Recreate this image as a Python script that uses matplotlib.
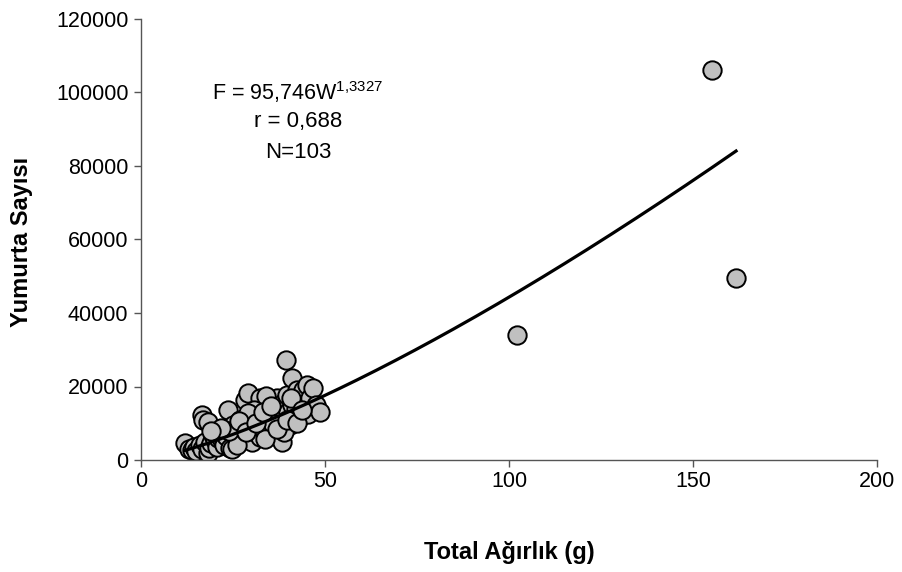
import matplotlib
matplotlib.use("Agg")
import matplotlib.pyplot as plt
import numpy as np

plt.rcParams['font.family'] = ['Liberation Sans', 'DejaVu Sans']
plt.rcParams['mathtext.fontset'] = 'custom'
plt.rcParams['mathtext.rm'] = 'Liberation Sans'

# Total weight (g)
weights = [
    12.0, 13.0, 13.9, 14.5, 15.0, 16.0, 16.5, 16.6, 16.8, 17.5, 18.2, 18.2, 18.5, 19.0,
    19.6, 20.1, 20.6, 21.0, 21.5, 22.0, 22.5, 23.0,
    23.6, 24.2, 24.7, 25.0, 25.5, 26.0, 26.9, 27.5, 28.0, 28.3, 28.8, 29.1, 29.6, 30.0,
    30.2, 30.5, 31.0, 31.5, 31.8, 32.0, 32.3, 32.3,
    33.0, 33.5, 34.0, 34.5, 35.0, 35.5, 36.0, 36.5, 36.9, 37.2, 37.5, 38.0, 38.3, 38.5,
    39.0, 39.4, 39.6, 40.0, 40.5, 41.0, 41.0, 41.5, 42.0, 42.3, 43.0, 43.2, 44.0, 44.5,
    45.0, 45.1, 45.5, 46.0, 46.7, 47.5, 48.6,
    27.0, 34.0, 35.8, 38.8, 30.8, 26.2, 33.8, 29.0,
    24.0, 26.5, 28.5, 31.2, 33.2, 35.2, 37.0, 39.8, 40.8, 42.5, 43.8, 21.8, 19.0,
    102.2, 155.2, 161.7,
]
# Egg count
eggs = [
    4600, 3000, 2700, 3600, 2400, 4100, 3000, 12200, 10900, 5000, 1900, 10300, 3200, 4500,
    6800, 5400, 3500, 6000, 7300, 5400, 4200, 6500,
    13600, 3300, 3000, 9500, 7000, 6300, 8200, 5500, 9000, 16300, 6800, 18200, 10100, 8000,
    4900, 12500, 7500, 11700, 9500, 14000, 16900, 6300,
    10500, 8000, 12800, 15800, 8700, 11000, 13500, 6500, 16900, 14100, 10200, 12000, 4900, 15500,
    9000, 27200, 17700, 13000, 9500, 22300, 15000, 11500, 13800, 19000, 16500, 11700, 19000, 14200,
    20400, 15500, 12500, 17000, 19600, 15000, 13100,
    11000, 17500, 9800, 7600, 13500, 4200, 5600, 12800,
    8000, 10500, 7500, 10000, 13000, 14800, 8500, 11000, 16800, 10200, 13500, 8700, 8000,
    34000, 106100, 49500,
]

# Power fit F = a * W^b
fit_a = 95.746
fit_b = 1.3327

fig = plt.figure(figsize=(9.02, 5.72), dpi=100)
ax = fig.add_axes([141/902, 1-460/572, (877-141)/902, (460-19)/572])

w = np.array(weights)
wl = np.linspace(w.min(), w.max(), 200)
ax.plot(wl, fit_a * wl ** fit_b, color='black', lw=2.3, zorder=3)
ax.scatter(weights, eggs, s=175, facecolor='#c0c0c0', edgecolor='black', linewidths=1.4, zorder=2)

ax.set_xlim(0, 200)
ax.set_ylim(0, 120000)
ax.set_xticks([0, 50, 100, 150, 200])
ax.set_yticks(range(0, 120001, 20000))
for s in ['top', 'right']:
    ax.spines[s].set_visible(False)
for s in ['left', 'bottom']:
    ax.spines[s].set_color('#555555')
    ax.spines[s].set_linewidth(1.0)
ax.tick_params(direction='out', length=5, width=1.0, color='#555555', labelsize=15.5)
ax.tick_params(axis='y', pad=4)
ax.tick_params(axis='x', pad=3)

fig.text(509/902, 1-553/572, 'Total Ağırlık (g)', ha='center', va='center',
         fontsize=17, fontweight='bold')
fig.text(22/902, 1-242/572, 'Yumurta Sayısı', ha='center', va='center',
         fontsize=17, fontweight='bold', rotation=90)

ax.text(298/902, 1-92/572, r'F = 95,746W$^{\mathregular{1{,}3327}}$', transform=fig.transFigure,
        ha='center', va='center', fontsize=15.5)
ax.text(298/902, 1-122/572, 'r = 0,688', transform=fig.transFigure, ha='center', va='center', fontsize=16)
ax.text(298/902, 1-152/572, 'N=103', transform=fig.transFigure, ha='center', va='center', fontsize=16)

fig.savefig('out.png', dpi=100)
